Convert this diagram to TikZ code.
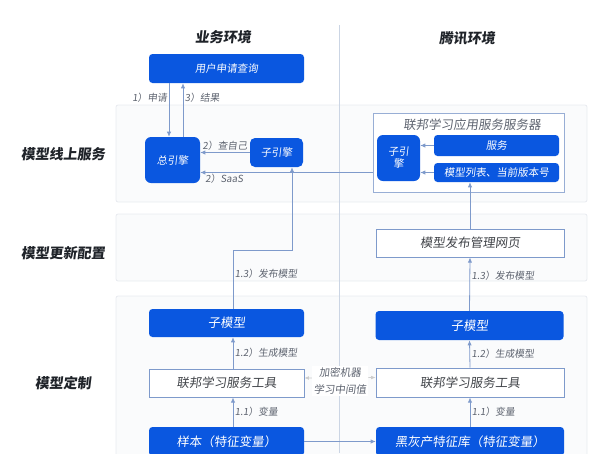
\documentclass[tikz,border=0pt]{standalone}
\usepackage{fontspec}
\setmainfont[FakeSlant=0.12]{Noto Sans CJK SC}
\usetikzlibrary{arrows.meta,calc,positioning}
\definecolor{ink}{HTML}{1F2329}
\definecolor{muted}{HTML}{5E6470}
\definecolor{brand}{HTML}{0A57E0}
\definecolor{edge}{HTML}{7E9ACB}
\definecolor{band}{HTML}{FAFBFC}
\definecolor{bandline}{HTML}{E8EBF0}
\definecolor{divider}{HTML}{CBD5E4}
\tikzset{
  bandbox/.style={draw=bandline,fill=band,rounded corners=2pt,line width=0.8pt},
  bluebox/.style={fill=brand,text=white,rounded corners=3.5pt,inner sep=0pt,align=center,font=\fontsize{10.5}{12}\selectfont},
  widebox/.style={bluebox,font=\fontsize{12.5}{14}\selectfont},
  whitebox/.style={draw=edge,line width=0.8pt,fill=white,text=ink!85,inner sep=0pt,font=\fontsize{12.5}{14}\selectfont},
  rowtitle/.style={text=ink,font=\fontsize{14}{16}\selectfont\bfseries},
  steplabel/.style={text=muted,inner sep=1.5pt,font=\fontsize{9.8}{11}\selectfont},
  arrow/.style={-{Latex[length=1.8mm,width=1.5mm]},line width=0.8pt,draw=edge},
  softarrow/.style={{Latex[length=1.6mm,width=1.3mm]}-{Latex[length=1.6mm,width=1.3mm]},line width=0.6pt,draw=gray!40}
}
\begin{document}
\begin{tikzpicture}[x=1pt,y=-1pt,
    lane/.style={widebox,minimum width=155pt,minimum height=28pt},
    lanew/.style={whitebox,minimum width=155pt,minimum height=28pt},
    tx/.style={widebox,minimum width=188pt,minimum height=29pt},
    txw/.style={whitebox,minimum width=188pt,minimum height=28pt}
  ]
    \useasboundingbox (0,0) rectangle (589,453);
    % bands and divider
    \draw[bandbox] (116,105) rectangle (587,202);
    \draw[bandbox] (116,214) rectangle (587,281);
    \draw[bandbox] (116,296) rectangle (587,470);
    \draw[divider,line width=0.8pt] (339,25) -- (339,453);

    \node[rowtitle] (hbiz) at (223,37) {业务环境};
    \node[rowtitle] (htx) at (467,38) {腾讯环境};
    \node[rowtitle] (rserve) at (63,154) {模型线上服务};
    \node[rowtitle] (rconf) at (63,253) {模型更新配置};
    \node[rowtitle] (rcust) at (63,383) {模型定制};

    % business side
    \node[bluebox,minimum width=155pt,minimum height=29pt] (user) at (226.5,68.5) {用户申请查询};
    \node[bluebox,minimum width=55pt,minimum height=46pt,rounded corners=6pt] (zong) at (172.5,160) {总引擎};
    \node[bluebox,minimum width=53pt,minimum height=29pt,rounded corners=5pt] (ziL) at (276.5,152.5) {子引擎};
    \node[lane] (subL) at (226.5,323) {子模型};
    \node[lanew] (toolL) at (226.5,383) {联邦学习服务工具};
    \node[lane,minimum height=29pt] (sampleL) at (226.5,441.5) {样本（特征变量）};

    % tencent side
    \node[draw=edge!80,line width=0.8pt,fill=white,minimum width=191pt,minimum height=79pt] (server) at (468.5,152.5) {};
    \node[text=muted,font=\fontsize{12.5}{14}\selectfont] (stitle) at (472,125) {联邦学习应用服务服务器};
    \node[bluebox,minimum width=43pt,minimum height=46pt,rounded corners=6pt] (ziR) at (398.5,158) {子引\\擎};
    \node[bluebox,minimum width=125pt,minimum height=21pt] (fuwu) at (496.5,145.5) {服务};
    \node[bluebox,minimum width=125pt,minimum height=19pt] (mlist) at (496.5,172.5) {模型列表、当前版本号};
    \node[txw] (pub) at (470,243) {模型发布管理网页};
    \node[tx] (subR) at (469.5,325.5) {子模型};
    \node[txw,minimum height=29pt] (toolR) at (470,382.5) {联邦学习服务工具};
    \node[tx] (blackR) at (470,441.5) {黑灰产特征库（特征变量）};

    % online service
    \draw[arrow] ([xshift=-3.5pt]zong.north |- user.south) -- node[steplabel,left,pos=0.28] {1）申请} ([xshift=-3.5pt]zong.north);
    \draw[arrow] ([xshift=10.5pt]zong.north) -- node[steplabel,right,pos=0.72] {3）结果} ([xshift=10.5pt]zong.north |- user.south);
    \draw[arrow] (ziL.west) -- node[steplabel,above] {2）查自己} (ziL.west -| zong.east);
    \draw[arrow] (server.west |- mlist.west) -- node[steplabel,below,pos=0.86] {2）SaaS} (zong.east |- mlist.west);
    \draw[arrow] (fuwu.west) -- (fuwu.west -| ziR.east);
    \draw[arrow] (mlist.west) -- (mlist.west -| ziR.east);

    % publishing
    \coordinate (bend) at (233,250);
    \draw[arrow] ([xshift=6.5pt]subL.north) |- node[steplabel,right,pos=0.3] {1.3）发布模型} (bend) -| ([xshift=15.5pt]ziL.south);
    \draw[arrow] (pub.north) -- (pub.north |- mlist.south);
    \draw[arrow] (subR.north) -- node[steplabel,right,pos=0.65] {1.3）发布模型} (pub.south);

    % customisation
    \draw[arrow] ([xshift=6.5pt]toolL.north) -- node[steplabel,right] {1.2）生成模型} ([xshift=6.5pt]subL.south);
    \draw[arrow] ([xshift=6.5pt]sampleL.north) -- node[steplabel,right] {1.1）变量} ([xshift=6.5pt]toolL.south);
    \draw[arrow] (toolR.north) -- node[steplabel,right] {1.2）生成模型} (subR.south);
    \draw[arrow] (blackR.north) -- node[steplabel,right] {1.1）变量} (toolR.south);
    \draw[softarrow] ([yshift=5pt]toolL.east) -- node[steplabel,fill=white,align=center,yshift=-3pt,font=\fontsize{10.5}{17}\selectfont] {加密机器\\学习中间值} ([yshift=5pt]toolR.west);
    \draw[arrow] (sampleL.east) -- (blackR.west);
  \end{tikzpicture}
\end{document}
